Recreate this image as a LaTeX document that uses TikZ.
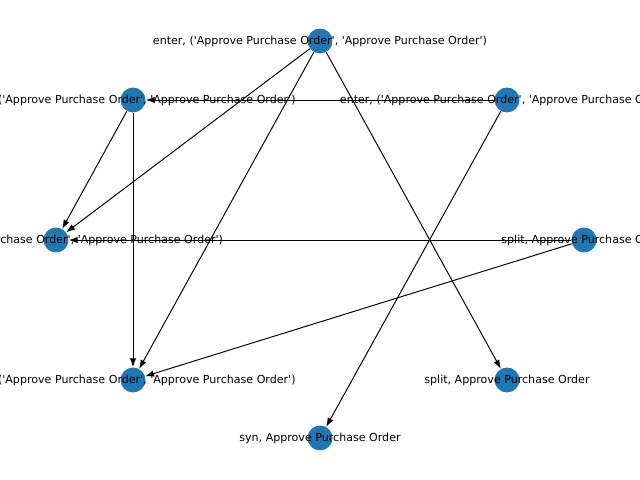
\documentclass[tikz,border=0pt]{standalone}
\usepackage{fontspec}
\newfontfamily\lblfont{DejaVu Sans}
\usetikzlibrary{arrows.meta}
\definecolor{nodeblue}{HTML}{1F77B4}
\tikzset{
  vertex/.style={circle, fill=nodeblue, inner sep=0pt, minimum size=0.5cm},
  edge/.style={draw=black, line width=0.55pt, -{Latex[length=5pt,width=3.6pt]}},
  lbl/.style={font=\lblfont\fontsize{6.3pt}{7pt}\selectfont, inner sep=0pt, text=black}
}
\begin{document}
\begin{tikzpicture}[x=0.02cm, y=-0.02cm]
\useasboundingbox (0,0) rectangle (640,480);
\clip (0,0) rectangle (640,480);
\node[vertex] (A) at (320,41) {};
\node[vertex] (B) at (133,100) {};
\node[vertex] (C) at (507,100) {};
\node[vertex] (D) at (56,240) {};
\node[vertex] (E) at (584,240) {};
\node[vertex] (F) at (133,380) {};
\node[vertex] (G) at (507,380) {};
\node[vertex] (H) at (320,438) {};
\draw[edge] (C) -- (B);
\draw[edge] (A) -- (D);
\draw[edge] (A) -- (F);
\draw[edge] (A) -- (G);
\draw[edge] (B) -- (D);
\draw[edge] (B) -- (F);
\draw[edge] (C) -- (H);
\draw[edge] (E) -- (D);
\draw[edge] (E) -- (F);
\node[lbl] (lA) at (A) {enter, ('Approve Purchase Order', 'Approve Purchase Order')};
\node[lbl] (lB) at (B) {exit, ('Approve Purchase Order', 'Approve Purchase Order')};
\node[lbl] (lC) at (C) {enter, ('Approve Purchase Order', 'Approve Purchase Order')};
\node[lbl] (lD) at (D) {enter, ('Approve Purchase Order', 'Approve Purchase Order')};
\node[lbl] (lE) at (E) {split, Approve Purchase Order};
\node[lbl] (lF) at (F) {exit, ('Approve Purchase Order', 'Approve Purchase Order')};
\node[lbl] (lG) at (G) {split, Approve Purchase Order};
\node[lbl] (lH) at (H) {syn, Approve Purchase Order};
\end{tikzpicture}
\end{document}
